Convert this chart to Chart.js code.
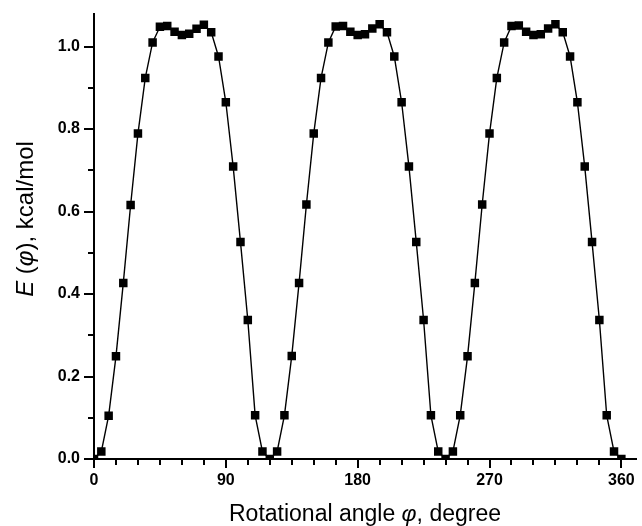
<!DOCTYPE html>
<html>
<head>
<meta charset="utf-8">
<script src="https://cdn.jsdelivr.net/npm/chart.js@4/dist/chart.umd.min.js"></script>
<style>
  html, body { margin: 0; padding: 0; background: #fff; }
  #wrap { width: 642px; height: 526px; }
</style>
</head>
<body>
<div id="wrap"><canvas id="energyChart" width="642" height="526"></canvas></div>
<script>
'use strict';

// Rotational angle, degree (step 5)
const angles = [
  0, 5, 10, 15, 20, 25, 30, 35, 40, 45, 50, 55, 60, 65, 70, 75, 80, 85, 90, 95, 100, 105, 110, 115,
  120, 125, 130, 135, 140, 145, 150, 155, 160, 165, 170, 175, 180, 185, 190, 195, 200, 205, 210, 215, 220, 225, 230, 235,
  240, 245, 250, 255, 260, 265, 270, 275, 280, 285, 290, 295, 300, 305, 310, 315, 320, 325, 330, 335, 340, 345, 350, 355,
  360
];

// E(phi), kcal/mol
const energy = [
  0.000, 0.018, 0.105, 0.249, 0.427, 0.616, 0.789, 0.924, 1.010, 1.048, 1.050, 1.036, 1.028, 1.031, 1.043, 1.053, 1.035, 0.976, 0.865, 0.709, 0.526, 0.337, 0.106, 0.018,
  0.000, 0.018, 0.106, 0.250, 0.427, 0.617, 0.789, 0.924, 1.010, 1.049, 1.050, 1.036, 1.028, 1.030, 1.044, 1.054, 1.035, 0.976, 0.865, 0.709, 0.526, 0.337, 0.106, 0.018,
  0.000, 0.018, 0.106, 0.249, 0.427, 0.617, 0.789, 0.924, 1.010, 1.050, 1.051, 1.036, 1.028, 1.030, 1.044, 1.054, 1.035, 0.976, 0.865, 0.709, 0.526, 0.337, 0.106, 0.018,
  0.000
];

const xMajorTicks = [0, 90, 180, 270, 360];
const xMinorTicks = [15, 30, 45, 60, 75, 105, 120, 135, 150, 165, 195, 210, 225, 240, 255, 285, 300, 315, 330, 345];
const yMajorTicks = [0, 0.2, 0.4, 0.6, 0.8, 1.0];
const yMinorTicks = [0.1, 0.3, 0.5, 0.7, 0.9];

const FONT = "'Liberation Sans', Arial, sans-serif";

// draws [text, style] parts centred on 0,0
function drawParts(ctx, parts, size) {
  const fontOf = st => `${st || ''} ${size}px ${FONT}`;
  let total = 0;
  parts.forEach(([t, st]) => { ctx.font = fontOf(st); total += ctx.measureText(t).width; });
  let x = -total / 2;
  ctx.textAlign = 'left';
  ctx.textBaseline = 'alphabetic';
  parts.forEach(([t, st]) => {
    ctx.font = fontOf(st);
    ctx.fillText(t, x, 0);
    x += ctx.measureText(t).width;
  });
}

const axisExtras = {
  id: 'axisExtras',
  afterDraw(chart) {
    const { ctx, chartArea: a, scales: { x, y } } = chart;
    ctx.save();
    ctx.strokeStyle = '#000';
    ctx.lineWidth = 2;
    ctx.beginPath();
    xMinorTicks.forEach(v => {
      const px = Math.round(x.getPixelForValue(v));
      ctx.moveTo(px, a.bottom); ctx.lineTo(px, a.bottom + 6);
    });
    yMinorTicks.forEach(v => {
      const py = Math.round(y.getPixelForValue(v));
      ctx.moveTo(a.left, py); ctx.lineTo(a.left - 6, py);
    });
    ctx.stroke();

    ctx.fillStyle = '#000';
    // x title
    ctx.save();
    ctx.translate((a.left + a.right) / 2, 521);
    drawParts(ctx, [['Rotational angle ', ''], ['φ', 'italic'], [', degree', '']], 23);
    ctx.restore();
    // y title
    ctx.save();
    ctx.translate(33, 219);
    ctx.rotate(-Math.PI / 2);
    drawParts(ctx, [['E', 'italic'], [' (', ''], ['φ', 'italic'], ['), kcal/mol', '']], 24);
    ctx.restore();
    ctx.restore();
  }
};

function renderChart() {
  const ctx = document.getElementById('energyChart').getContext('2d');
  const tickFont = { family: FONT, size: 16, weight: 'bold' };

  new Chart(ctx, {
    type: 'line',
    data: {
      labels: angles,
      datasets: [{
        data: angles.map((a, i) => ({ x: a, y: energy[i] })),
        borderColor: '#000',
        borderWidth: 1.4,
        tension: 0,
        pointStyle: 'rect',
        pointRadius: 6,
        pointBackgroundColor: '#000',
        pointBorderWidth: 0
      }]
    },
    options: {
      responsive: false,
      animation: false,
      layout: { padding: { top: 12, right: 0, left: 0, bottom: 0 } },
      plugins: { legend: { display: false }, tooltip: { enabled: false } },
      scales: {
        x: {
          type: 'linear', min: 0, max: 370,
          afterBuildTicks: s => { s.ticks = xMajorTicks.map(v => ({ value: v })); },
          afterFit: s => { s.height = 67; },
          grid: { drawOnChartArea: false, drawTicks: true, tickLength: 9, color: '#000', lineWidth: 2 },
          border: { display: true, color: '#000', width: 2 },
          ticks: { color: '#000', font: tickFont, padding: 3, maxRotation: 0, autoSkip: false, callback: v => v }
        },
        y: {
          type: 'linear', min: 0, max: 1.08,
          afterBuildTicks: s => { s.ticks = yMajorTicks.map(v => ({ value: v })); },
          afterFit: s => { s.width = 94; },
          grid: { drawOnChartArea: false, drawTicks: true, tickLength: 10, color: '#000', lineWidth: 2 },
          border: { display: true, color: '#000', width: 2 },
          ticks: { color: '#000', font: tickFont, padding: 4, autoSkip: false, callback: v => v.toFixed(1) }
        }
      }
    },
    plugins: [axisExtras]
  });
}

document.addEventListener('DOMContentLoaded', renderChart);
</script>
</body>
</html>
